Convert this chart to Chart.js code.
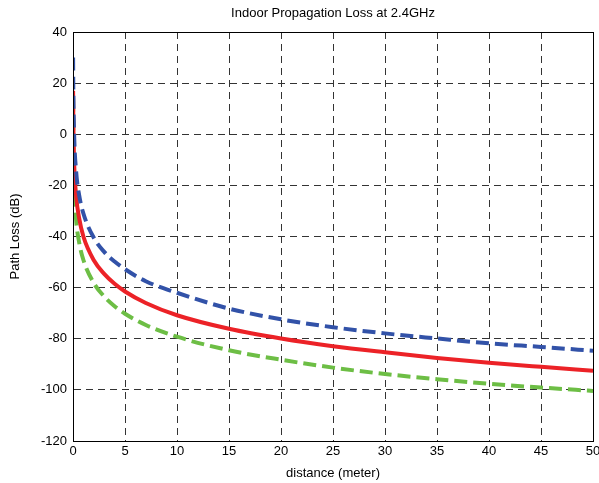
<!DOCTYPE html>
<html>
<head>
<meta charset="utf-8">
<script src="https://cdn.jsdelivr.net/npm/chart.js@4/dist/chart.umd.min.js"></script>
<style>
  html, body { margin: 0; padding: 0; background: #fff; }
  #wrap { width: 599px; height: 483px; }
</style>
</head>
<body>
<div id="wrap"><canvas id="myChart" width="599" height="483"></canvas></div>
<script>
const distance = [0.01, 0.03, 0.1, 0.3, 0.6, 1, 2, 3, 4, 5, 7, 10, 15, 20, 25, 30, 35, 40, 45, 50];
// path loss (dB) for each curve
const blueLoss  = [30, 17.5, 1, -14.5, -24, -31, -40.5, -46, -49.8, -52.8, -57.5, -62, -68.2, -72.4, -75.5, -77.9, -79.9, -81.8, -83.2, -84.7];
const redLoss   = [17, 6, -9.8, -24, -33, -40, -49.3, -54.6, -58.5, -61.5, -66, -70.8, -76.1, -79.9, -82.9, -85.3, -87.5, -89.4, -91, -92.5];
const greenLoss = [14, -2, -19, -33.5, -42.5, -49.2, -58.2, -63.5, -67.3, -70.2, -74.6, -79.2, -84.5, -88.2, -91.3, -93.8, -95.8, -97.6, -99.1, -100.4];

const xTicks = [0, 5, 10, 15, 20, 25, 30, 35, 40, 45, 50];
const yTicks = [-120, -100, -80, -60, -40, -20, 0, 20, 40];

const titleText = 'Indoor Propagation Loss at 2.4GHz';
const FONT = '"Liberation Sans", Arial, Helvetica, sans-serif';

function points(vals) {
    return distance.map((d, i) => ({ x: d, y: vals[i] }));
}

// box around the axes + title centred over the plot (like matlab)
const boxPlugin = {
    id: 'boxAndTitle',
    afterDraw(chart) {
        const { ctx, chartArea: a } = chart;
        ctx.save();
        ctx.strokeStyle = '#000';
        ctx.lineWidth = 1;
        ctx.setLineDash([]);
        ctx.strokeRect(Math.round(a.left) + 0.5, Math.round(a.top) + 0.5,
            Math.round(a.right - a.left), Math.round(a.bottom - a.top));
        ctx.fillStyle = '#000';
        ctx.font = '13px ' + FONT;
        ctx.textAlign = 'center';
        ctx.textBaseline = 'middle';
        ctx.fillText(titleText, (a.left + a.right) / 2, 13);
        ctx.restore();
    }
};

const line = (vals, color, dash) => ({
    data: points(vals),
    borderColor: color,
    borderWidth: 4,
    borderDash: dash,
    borderCapStyle: 'butt',
    pointRadius: 0,
    cubicInterpolationMode: 'monotone',
    fill: false
});

new Chart(document.getElementById('myChart').getContext('2d'), {
    type: 'line',
    data: {
        datasets: [
            line(blueLoss, '#3252a8', [13, 6]),
            line(redLoss, '#ec2227', []),
            line(greenLoss, '#6dbe45', [13, 6])
        ]
    },
    options: {
        responsive: false,
        animation: false,
        layout: { padding: { top: 32, right: 6, left: 0, bottom: 0 } },
        plugins: {
            legend: { display: false },
            title: { display: false },
            tooltip: { enabled: false }
        },
        scales: {
            x: {
                type: 'linear',
                min: 0,
                max: 50,
                afterBuildTicks: s => { s.ticks = xTicks.map(v => ({ value: v })); },
                afterFit: s => { s.height = 42; s.paddingLeft = 0; s.paddingRight = 0; },
                ticks: { color: '#000', padding: 3, maxRotation: 0, font: { family: FONT, size: 13 } },
                grid: { color: '#333', lineWidth: 1, drawTicks: false },
                border: { display: true, color: '#000', dash: [7, 5] },
                title: { display: true, text: 'distance (meter)', color: '#000',
                         padding: { top: 0, bottom: 2 }, font: { family: FONT, size: 13 } }
            },
            y: {
                min: -120,
                max: 40,
                afterBuildTicks: s => { s.ticks = yTicks.map(v => ({ value: v })); },
                afterFit: s => { s.width = 73; },
                ticks: { color: '#000', padding: 6, font: { family: FONT, size: 13 } },
                grid: { color: '#333', lineWidth: 1, drawTicks: false },
                border: { display: true, color: '#000', dash: [7, 5] },
                title: { display: true, text: 'Path Loss (dB)', color: '#000',
                         padding: { top: 8, bottom: 0 }, font: { family: FONT, size: 13 } }
            }
        }
    },
    plugins: [boxPlugin]
});
</script>
</body>
</html>
